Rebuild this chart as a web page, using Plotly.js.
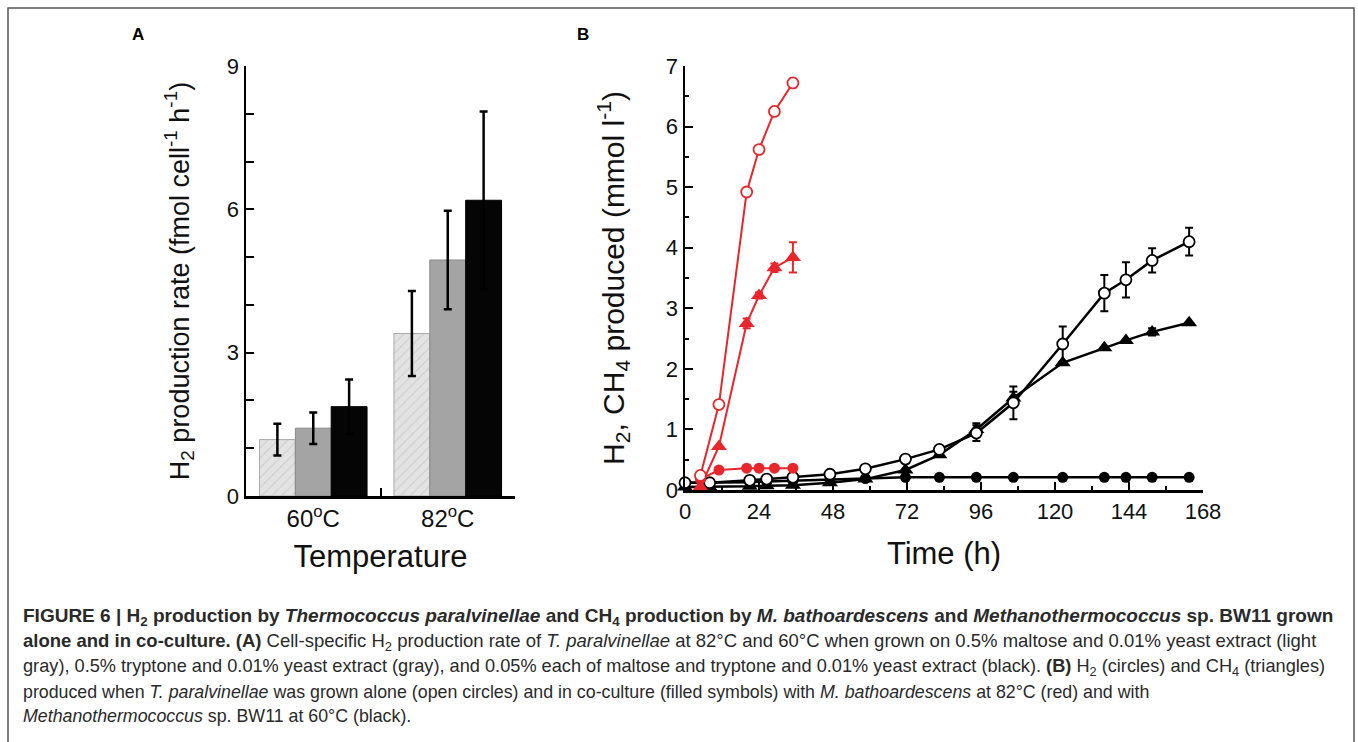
<!DOCTYPE html>
<html>
<head>
<meta charset="utf-8">
<script src="https://cdn.plot.ly/plotly-3.0.1.min.js"></script>
<style>
html,body{margin:0;padding:0;background:#fff;}
#chart{width:1358px;height:742px;}
</style>
</head>
<body>
<div id="chart"></div>
<script>
// ---------- Panel A data ----------
const tempCategories = ["60<sup>o</sup>C", "82<sup>o</sup>C"];
const rateMaltose = [1.18, 3.40];
const rateMaltoseErr = [0.33, 0.89];
const rateTryptone = [1.42, 4.94];
const rateTryptoneErr = [0.33, 1.03];
const rateMix = [1.87, 6.19];
const rateMixErr = [0.57, 1.86];
const yTicksA = [0, 3, 6, 9];

// ---------- Panel B data ----------
// T. paralvinellae alone, 82°C (red open circles, H2)
const tRedAlone = [5, 11, 20, 24, 29, 35];
const h2RedAlone = [0.24, 1.41, 4.92, 5.62, 6.25, 6.72];
const h2RedAloneErr = [null, null, null, null, 0.05, 0.07];
// co-culture with M. bathoardescens, 82°C (red filled circles H2, red triangles CH4)
const tRedCo = [5, 11, 20, 24, 29, 35];
const h2RedCo = [0.18, 0.33, 0.36, 0.36, 0.36, 0.36];
const ch4RedCo = [0.05, 0.72, 2.75, 3.21, 3.67, 3.84];
const ch4RedCoErr = [null, null, 0.08, 0.05, 0.07, 0.25];
// T. paralvinellae alone, 60°C (black open circles, H2)
const tBlack = [0, 8, 21, 26.5, 35, 47, 58.5, 71.5, 82.5, 94.5, 106.5, 122.5, 136, 143, 151.5, 163.5];
const h2BlackAlone = [0.12, 0.12, 0.16, 0.18, 0.21, 0.26, 0.35, 0.51, 0.67, 0.94, 1.44, 2.41, 3.25, 3.47, 3.79, 4.10];
const h2BlackAloneErr = [null, null, null, null, null, null, null, null, null, 0.13, 0.27, 0.29, 0.3, 0.29, 0.2, 0.23];
// co-culture with Methanothermococcus sp. BW11, 60°C (black filled circles H2, black triangles CH4)
const h2BlackCo = [0.12, 0.12, 0.13, 0.14, 0.15, 0.17, 0.19, 0.21, 0.21, 0.21, 0.21, 0.21, 0.21, 0.21, 0.21, 0.21];
const ch4BlackCo = [0.05, 0.05, 0.06, 0.07, 0.08, 0.12, 0.18, 0.33, 0.58, 1.0, 1.52, 2.1, 2.35, 2.47, 2.61, 2.76];
const ch4BlackCoErr = [null, null, null, null, null, null, null, null, null, 0.1, 0.1, null, null, null, 0.06, null];
const xTicksB = [0, 24, 48, 72, 96, 120, 144, 168];
const yTicksB = [0, 1, 2, 3, 4, 5, 6, 7];

const RED = "#e8262b";
const FONT = "Liberation Sans, Arial, sans-serif";

const W = 1358, H = 742;
const px = v => v / W;
const py = v => 1 - v / H;

function barTrace(y, err, color, lineColor, pattern) {
  const t = {
    type: "bar", x: tempCategories, y: y, xaxis: "x", yaxis: "y",
    marker: {color: color, line: {color: lineColor, width: 1}},
    error_y: {type: "data", array: err, visible: true, color: "#000", thickness: 2.5, width: 4},
    showlegend: false, hoverinfo: "skip"
  };
  if (pattern) t.marker.pattern = pattern;
  return t;
}

const traces = [
  barTrace(rateMaltose, rateMaltoseErr, "#e3e3e3", "#a8a8a8",
    {shape: "/", fgcolor: "#cdcdcd", bgcolor: "#e3e3e3", size: 7, solidity: 0.15}),
  barTrace(rateTryptone, rateTryptoneErr, "#a4a4a4", "#8a8a8a"),
  barTrace(rateMix, rateMixErr, "#050505", "#000"),

  // black co-culture H2 (filled circles)
  {type: "scatter", mode: "lines+markers", x: tBlack, y: h2BlackCo, xaxis: "x2", yaxis: "y2",
   line: {color: "#000", width: 2.5}, marker: {symbol: "circle", size: 11, color: "#000"},
   cliponaxis: false, showlegend: false},
  // black co-culture CH4 (filled triangles)
  {type: "scatter", mode: "lines+markers", x: tBlack, y: ch4BlackCo, xaxis: "x2", yaxis: "y2",
   line: {color: "#000", width: 2.5}, marker: {symbol: "triangle-up", size: 14, color: "#000"},
   error_y: {type: "data", array: ch4BlackCoErr, visible: true, color: "#000", thickness: 2, width: 4},
   cliponaxis: false, showlegend: false},
  // black alone H2 (open circles)
  {type: "scatter", mode: "lines+markers", x: tBlack, y: h2BlackAlone, xaxis: "x2", yaxis: "y2",
   line: {color: "#000", width: 2.5}, marker: {symbol: "circle", size: 11, color: "#fff", line: {color: "#000", width: 1.8}},
   error_y: {type: "data", array: h2BlackAloneErr, visible: true, color: "#000", thickness: 2, width: 4},
   cliponaxis: false, showlegend: false},

  // red co-culture CH4 (triangles)
  {type: "scatter", mode: "lines+markers", x: tRedCo, y: ch4RedCo, xaxis: "x2", yaxis: "y2",
   line: {color: RED, width: 2}, marker: {symbol: "triangle-up", size: 14, color: RED},
   error_y: {type: "data", array: ch4RedCoErr, visible: true, color: RED, thickness: 2, width: 4},
   cliponaxis: false, showlegend: false},
  // red co-culture H2 (filled circles)
  {type: "scatter", mode: "lines+markers", x: tRedCo, y: h2RedCo, xaxis: "x2", yaxis: "y2",
   line: {color: RED, width: 2}, marker: {symbol: "circle", size: 11, color: RED},
   cliponaxis: false, showlegend: false},
  // red alone H2 (open circles)
  {type: "scatter", mode: "lines+markers", x: tRedAlone, y: h2RedAlone, xaxis: "x2", yaxis: "y2",
   line: {color: RED, width: 2}, marker: {symbol: "circle", size: 11, color: "#fff", line: {color: RED, width: 1.8}},
   error_y: {type: "data", array: h2RedAloneErr, visible: true, color: RED, thickness: 2, width: 4},
   cliponaxis: false, showlegend: false}
];

const axisCommon = {
  showline: true, linecolor: "#000", linewidth: 2.5, mirror: false,
  showgrid: false, zeroline: false, ticks: "inside", tickcolor: "#000", tickwidth: 2,
  tickfont: {family: FONT, size: 22, color: "#111"}, fixedrange: true
};

const captionLines = [
  "<b>FIGURE 6 | H<sub>2</sub> production by <i>Thermococcus paralvinellae</i> and CH<sub>4</sub> production by <i>M. bathoardescens</i> and <i>Methanothermococcus</i> sp. BW11 grown</b>",
  "<b>alone and in co-culture. (A)</b> Cell-specific H<sub>2</sub> production rate of <i>T. paralvinellae</i> at 82°C and 60°C when grown on 0.5% maltose and 0.01% yeast extract (light",
  "gray), 0.5% tryptone and 0.01% yeast extract (gray), and 0.05% each of maltose and tryptone and 0.01% yeast extract (black). <b>(B)</b> H<sub>2</sub> (circles) and CH<sub>4</sub> (triangles)",
  "produced when <i>T. paralvinellae</i> was grown alone (open circles) and in co-culture (filled symbols) with <i>M. bathoardescens</i> at 82°C (red) and with",
  "<i>Methanothermococcus</i> sp. BW11 at 60°C (black)."
];
const captionY = [617, 642, 667, 692, 716];
const captionSize = [19, 18.5, 18.2, 17.8, 17.8];

const annotations = captionLines.map((t, i) => ({
  text: t, xref: "paper", yref: "paper", x: px(21), y: py(captionY[i]),
  xanchor: "left", yanchor: "middle", showarrow: false, align: "left",
  font: {family: FONT, size: captionSize[i], color: "#2a2a2a"}
}));
annotations.push({text: "<b>A</b>", xref: "paper", yref: "paper", x: px(138), y: py(35),
  xanchor: "center", yanchor: "middle", showarrow: false, font: {family: FONT, size: 17, color: "#000"}});
annotations.push({text: "<b>B</b>", xref: "paper", yref: "paper", x: px(583), y: py(35),
  xanchor: "center", yanchor: "middle", showarrow: false, font: {family: FONT, size: 17, color: "#000"}});

const layout = {
  width: W, height: H,
  margin: {l: 0, r: 0, t: 0, b: 0},
  paper_bgcolor: "#fff", plot_bgcolor: "rgba(0,0,0,0)",
  font: {family: FONT, color: "#111"},
  barmode: "group", bargap: 0.2, bargroupgap: 0,
  xaxis: Object.assign({}, axisCommon, {
    domain: [px(246), px(515)], anchor: "y", type: "category",
    range: [-0.5, 1.5], tickson: "boundaries", ticklen: 8,
    tickfont: {family: FONT, size: 24, color: "#111"},
    title: {text: "Temperature", font: {family: FONT, size: 31, color: "#111"}, standoff: 14}
  }),
  yaxis: Object.assign({}, axisCommon, {
    domain: [py(496), py(66)], anchor: "x", range: [0, 9],
    tickmode: "array", tickvals: yTicksA, ticklen: 8,
    minor: {dtick: 1, ticks: "inside", ticklen: 8, tickwidth: 2, tickcolor: "#000"},
    title: {text: "H<sub>2</sub> production rate (fmol cell<sup>-1</sup> h<sup>-1</sup>)",
            font: {family: FONT, size: 27, color: "#111"}, standoff: 30}
  }),
  xaxis2: Object.assign({}, axisCommon, {
    domain: [px(685), px(1203)], anchor: "y2", range: [0, 168],
    tickmode: "array", tickvals: xTicksB, ticklen: 8,
    minor: {dtick: 12, ticks: "inside", ticklen: 4, tickwidth: 2, tickcolor: "#000"},
    title: {text: "Time (h)", font: {family: FONT, size: 31, color: "#111"}, standoff: 20}
  }),
  yaxis2: Object.assign({}, axisCommon, {
    domain: [py(490), py(66)], anchor: "x2", range: [0, 7],
    tickmode: "array", tickvals: yTicksB, ticklen: 8,
    minor: {dtick: 0.5, ticks: "inside", ticklen: 4, tickwidth: 2, tickcolor: "#000"},
    title: {text: "H<sub>2</sub>, CH<sub>4</sub> produced (mmol l<sup>-1</sup>)",
            font: {family: FONT, size: 30, color: "#111"}, standoff: 33}
  }),
  shapes: [
    {type: "rect", xref: "paper", yref: "paper", x0: px(8), x1: px(1354), y0: -0.02, y1: py(8),
     line: {color: "#555", width: 1.5}, fillcolor: "rgba(0,0,0,0)"}
  ],
  annotations: annotations
};

Plotly.newPlot("chart", traces, layout, {staticPlot: true, displayModeBar: false});
</script>
</body>
</html>
